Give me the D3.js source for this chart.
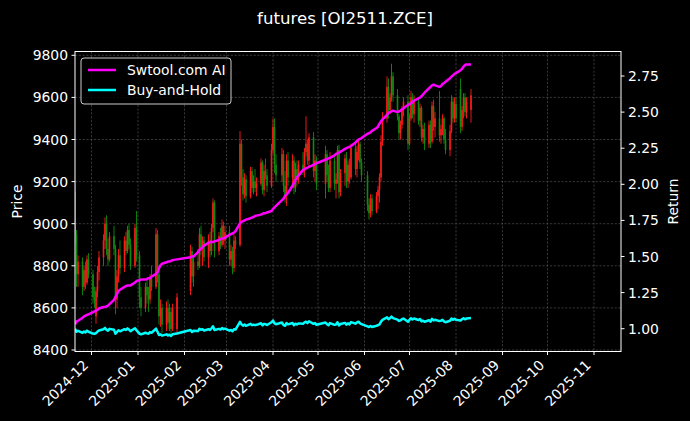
<!DOCTYPE html>
<html><head><meta charset="utf-8">
<script src="https://cdn.jsdelivr.net/npm/d3@7"></script>
<style>html,body{margin:0;padding:0;background:#000;}svg{display:block;font-family:"DejaVu Sans",sans-serif;}</style>
</head><body><svg id="c" width="690" height="421"></svg>
<script>
const title = "futures [OI2511.ZCE]";
const firstDay = "2024-11-20", lastDay = "2025-08-11";
const holidays = ["2025-01-01","2025-01-28","2025-01-29","2025-01-30","2025-01-31","2025-02-03","2025-02-04","2025-04-04","2025-05-01","2025-05-02","2025-05-05","2025-06-02"];
const openP = [9150,8950,8760,8820,8700,8780,8720,8830,8760,8650,8560,8680,8770,8840,8920,9000,8880,8830,8940,8880,8640,8750,8850,8790,8920,8870,8970,8900,8800,8980,8850,8650,8600,8700,8660,8640,8740,8700,8950,8760,8560,8600,8520,8600,8530,8580,8500,8500,8680,8870,8750,8820,8800,8950,8880,8920,8840,8920,8870,8980,9100,8870,8940,8900,8990,8920,8960,8830,8870,8790,8920,8900,9380,9220,9140,9210,9130,9250,9170,9200,9170,9190,9290,9160,9250,9230,9180,9350,9460,9280,9230,9330,9180,9130,9300,9220,9300,9170,9260,9210,9280,9250,9340,9380,9300,9410,9250,9300,9190,9330,9230,9170,9300,9190,9210,9350,9150,9240,9310,9200,9280,9220,9360,9260,9340,9380,9290,9230,9090,9050,9120,9060,9130,9160,9220,9390,9500,9650,9540,9600,9700,9610,9510,9430,9470,9540,9580,9380,9500,9600,9520,9580,9490,9550,9410,9450,9380,9470,9390,9560,9460,9500,9420,9450,9500,9400,9350,9440,9580,9500,9570,9640,9460,9540,9600,9530,9540];
const highP = [9200,8970,8850,8840,8800,8820,8850,8860,8780,8700,8700,8800,8870,8950,9030,9040,8930,8960,8990,8900,8780,8880,8920,8940,8960,8990,9000,8930,9000,9060,8870,8700,8720,8740,8700,8760,8800,8980,8970,8800,8640,8620,8630,8640,8620,8600,8620,8670,8900,8890,8850,8880,8980,8990,8940,8940,8950,8960,9000,9120,9110,8960,8980,9020,9010,8990,8990,8900,8890,8950,8940,9440,9400,9260,9240,9230,9270,9270,9230,9260,9220,9310,9300,9280,9310,9260,9380,9500,9500,9330,9360,9350,9250,9330,9340,9330,9320,9290,9300,9300,9340,9360,9510,9400,9430,9435,9330,9320,9370,9350,9280,9340,9320,9240,9370,9375,9260,9330,9340,9300,9310,9380,9390,9370,9400,9390,9310,9250,9120,9140,9140,9150,9180,9240,9420,9530,9700,9690,9620,9760,9720,9640,9520,9490,9560,9600,9610,9520,9630,9620,9610,9600,9570,9560,9470,9480,9490,9490,9580,9590,9530,9630,9470,9520,9510,9450,9470,9610,9600,9600,9600,9690,9560,9620,9620,9600,9640];
const lowP = [8900,8700,8700,8660,8680,8690,8710,8740,8620,8600,8525,8650,8730,8800,8880,8850,8800,8820,8850,8570,8600,8720,8760,8770,8850,8860,8880,8780,8790,8820,8600,8560,8580,8620,8580,8620,8680,8690,8720,8520,8510,8480,8490,8500,8490,8470,8490,8480,8660,8720,8700,8780,8790,8850,8800,8820,8790,8840,8850,8960,8840,8850,8880,8890,8900,8880,8800,8800,8760,8770,8880,8890,9180,9110,9120,9100,9120,9150,9140,9150,9130,9180,9140,9130,9210,9150,9170,9330,9240,9200,9200,9150,9100,9085,9180,9180,9140,9150,9180,9190,9230,9220,9320,9280,9270,9220,9200,9160,9120,9200,9150,9150,9160,9120,9190,9120,9130,9180,9170,9170,9190,9210,9230,9220,9300,9260,9200,9060,9020,9030,9040,9050,9070,9100,9200,9370,9480,9500,9520,9580,9580,9490,9400,9400,9450,9510,9350,9370,9490,9500,9480,9470,9460,9390,9380,9350,9360,9360,9380,9440,9410,9390,9380,9420,9380,9330,9320,9430,9480,9480,9480,9430,9440,9500,9510,9500,9480];
const closeP = [8950,8760,8820,8700,8780,8720,8830,8760,8650,8630,8680,8770,8840,8920,9000,8880,8830,8940,8880,8640,8750,8850,8790,8920,8870,8970,8900,8800,8980,8850,8650,8600,8700,8660,8640,8740,8700,8950,8760,8560,8600,8520,8600,8530,8580,8500,8600,8650,8870,8750,8820,8800,8950,8880,8920,8840,8920,8870,8980,9100,8870,8940,8900,8990,8920,8960,8830,8870,8790,8920,8900,9380,9220,9140,9210,9130,9250,9170,9200,9170,9190,9290,9160,9250,9230,9180,9350,9460,9280,9230,9330,9180,9130,9300,9220,9300,9170,9260,9210,9280,9250,9340,9380,9300,9410,9250,9300,9190,9330,9230,9170,9300,9190,9210,9350,9150,9240,9310,9200,9280,9220,9360,9260,9340,9380,9290,9230,9090,9050,9120,9060,9130,9160,9220,9390,9500,9650,9540,9600,9700,9610,9510,9430,9470,9540,9580,9380,9500,9600,9520,9580,9490,9550,9410,9450,9380,9470,9390,9560,9460,9500,9420,9450,9500,9400,9350,9440,9580,9500,9570,9500,9460,9540,9600,9530,9580,9610];
const strategyReturn = [1.03,1.05,1.055,1.075,1.085,1.09,1.095,1.10,1.115,1.12,1.125,1.13,1.14,1.15,1.15,1.155,1.16,1.17,1.20,1.22,1.24,1.26,1.27,1.29,1.295,1.30,1.30,1.30,1.32,1.33,1.335,1.34,1.34,1.345,1.35,1.35,1.36,1.38,1.39,1.42,1.44,1.45,1.46,1.465,1.465,1.47,1.475,1.48,1.495,1.50,1.50,1.53,1.545,1.555,1.565,1.575,1.595,1.60,1.60,1.60,1.605,1.615,1.62,1.625,1.627,1.63,1.65,1.655,1.66,1.665,1.675,1.73,1.74,1.745,1.75,1.755,1.765,1.77,1.775,1.78,1.783,1.79,1.795,1.80,1.80,1.805,1.815,1.83,1.84,1.85,1.89,1.90,1.92,1.93,1.94,1.99,2.01,2.03,2.05,2.06,2.10,2.105,2.11,2.115,2.12,2.135,2.14,2.146,2.17,2.175,2.18,2.183,2.20,2.21,2.215,2.22,2.225,2.245,2.25,2.255,2.26,2.265,2.29,2.30,2.31,2.315,2.32,2.35,2.355,2.36,2.37,2.39,2.40,2.42,2.435,2.45,2.48,2.495,2.50,2.505,2.51,2.50,2.505,2.51,2.52,2.526,2.55,2.555,2.56,2.57,2.58,2.595,2.60,2.61,2.62,2.635,2.665,2.675,2.685,2.69,2.685,2.675,2.68,2.695,2.70,2.71,2.735,2.745,2.755,2.765,2.77,2.79,2.80,2.815,2.826,2.83,2.83];
const priceTicks = [8400,8600,8800,9000,9200,9400,9600,9800];
const returnTicks = [1.00,1.25,1.50,1.75,2.00,2.25,2.50,2.75];
const monthTicks = ["2024-12","2025-01","2025-02","2025-03","2025-04","2025-05","2025-06","2025-07","2025-08","2025-09","2025-10","2025-11"];
const seriesNames = ["Swtool.com AI","Buy-and-Hold"];

const parse = d3.utcParse("%Y-%m-%d");
const fmt = d3.utcFormat("%Y-%m-%d");
const hol = new Set(holidays);
const dates = d3.utcDay.range(parse(firstDay), d3.utcDay.offset(parse(lastDay),1))
  .filter(d => d.getUTCDay()!==0 && d.getUTCDay()!==6 && !hol.has(fmt(d)));
const n = Math.min(dates.length, closeP.length);
const buyHold = closeP.map(c => c/closeP[0]);

const L=75, R=621, T=51.5, B=351.5;
const svg = d3.select("#c");
svg.append("rect").attr("width",690).attr("height",421).attr("fill","#000");

const x = d3.scaleUtc().domain([Date.UTC(2024,10,20), Date.UTC(2025,10,19)]).range([L,R]);
const y = d3.scaleLinear().domain([8400,9800]).range([350,55.3]);
const y2 = d3.scaleLinear().domain([1.0,2.75]).range([328.7,76]);

svg.append("clipPath").attr("id","pc").append("rect").attr("x",L).attr("y",T).attr("width",R-L).attr("height",B-T);

// grid
const grid = svg.append("g").attr("stroke","#5a5a5a").attr("stroke-width",0.6).attr("stroke-dasharray","2.2,1.6");
monthTicks.forEach(m => { const xx = x(parse(m+"-01")); grid.append("line").attr("x1",xx).attr("x2",xx).attr("y1",T).attr("y2",B); });
priceTicks.forEach(p => grid.append("line").attr("x1",L).attr("x2",R).attr("y1",y(p)).attr("y2",y(p)));

// candles
const cg = svg.append("g").attr("clip-path","url(#pc)");
for (let i=0;i<n;i++){
  const cx = x(dates[i]);
  const col = closeP[i] >= openP[i] ? "#ff1a1a" : "#0f8a0f";
  cg.append("line").attr("x1",cx).attr("x2",cx).attr("y1",y(highP[i])).attr("y2",y(lowP[i])).attr("stroke",col).attr("stroke-width",0.9);
  const top = y(Math.max(openP[i],closeP[i])), bot = y(Math.min(openP[i],closeP[i]));
  cg.append("rect").attr("x",cx-0.8).attr("width",1.6).attr("y",top).attr("height",Math.max(0.8,bot-top)).attr("fill",col);
}

// lines
const idx = d3.range(n);
const lineS = d3.line().x(i=>x(dates[i])).y(i=>y2(strategyReturn[i]));
const lineB = d3.line().x(i=>x(dates[i])).y(i=>y2(buyHold[i]));
const lg = svg.append("g").attr("clip-path","url(#pc)");
lg.append("path").attr("d",lineS(idx)).attr("fill","none").attr("stroke","#ff00ff").attr("stroke-width",2.5).attr("stroke-linejoin","round");
lg.append("path").attr("d",lineB(idx)).attr("fill","none").attr("stroke","#00ffff").attr("stroke-width",2.5).attr("stroke-linejoin","round");

// frame
svg.append("rect").attr("x",L).attr("y",T).attr("width",R-L).attr("height",B-T).attr("fill","none").attr("stroke","#fff").attr("stroke-width",1);

const fs = 13.9;
const la = svg.append("g");
priceTicks.forEach(p => {
  la.append("line").attr("x1",L-3.5).attr("x2",L).attr("y1",y(p)).attr("y2",y(p)).attr("stroke","#fff");
  la.append("text").attr("x",L-7).attr("y",y(p)).attr("dy","0.36em").attr("text-anchor","end").attr("fill","#fff").attr("font-size",fs).text(p);
});
returnTicks.forEach(r => {
  la.append("line").attr("x1",R).attr("x2",R+3.5).attr("y1",y2(r)).attr("y2",y2(r)).attr("stroke","#fff");
  la.append("text").attr("x",R+7).attr("y",y2(r)).attr("dy","0.36em").attr("text-anchor","start").attr("fill","#fff").attr("font-size",fs).text(d3.format(".2f")(r));
});
monthTicks.forEach(m => {
  const xx = x(parse(m+"-01"));
  la.append("line").attr("x1",xx).attr("x2",xx).attr("y1",B).attr("y2",B+3.5).attr("stroke","#fff");
  const px = xx - 2.3, py = B + 7 + 7.5;
  la.append("text").attr("transform",`translate(${px},${py}) rotate(-45)`).attr("text-anchor","end").attr("fill","#fff").attr("font-size",fs).text(m);
});
svg.append("text").attr("transform",`translate(21.5,${(T+B)/2}) rotate(-90)`).attr("text-anchor","middle").attr("fill","#fff").attr("font-size",fs).text("Price");
svg.append("text").attr("transform",`translate(678,${(T+B)/2}) rotate(-90)`).attr("text-anchor","middle").attr("fill","#fff").attr("font-size",fs).text("Return");
svg.append("text").attr("x",345).attr("y",24).attr("text-anchor","middle").attr("fill","#fff").attr("font-size",16.6).text(title);

const leg = svg.append("g");
leg.append("rect").attr("x",81).attr("y",58).attr("width",150).attr("height",46).attr("rx",3).attr("fill","#000").attr("fill-opacity",0.8).attr("stroke","#cccccc").attr("stroke-width",1);
[["#ff00ff",0],["#00ffff",1]].forEach(([c,k]) => {
  const yy = 70 + k*20;
  leg.append("line").attr("x1",88).attr("x2",116).attr("y1",yy).attr("y2",yy).attr("stroke",c).attr("stroke-width",2.5);
  leg.append("text").attr("x",127).attr("y",yy).attr("dy","0.36em").attr("fill","#fff").attr("font-size",fs).text(seriesNames[k]);
});
if (dates.length !== closeP.length) console.error("length mismatch", dates.length, closeP.length, strategyReturn.length);
</script></body></html>
